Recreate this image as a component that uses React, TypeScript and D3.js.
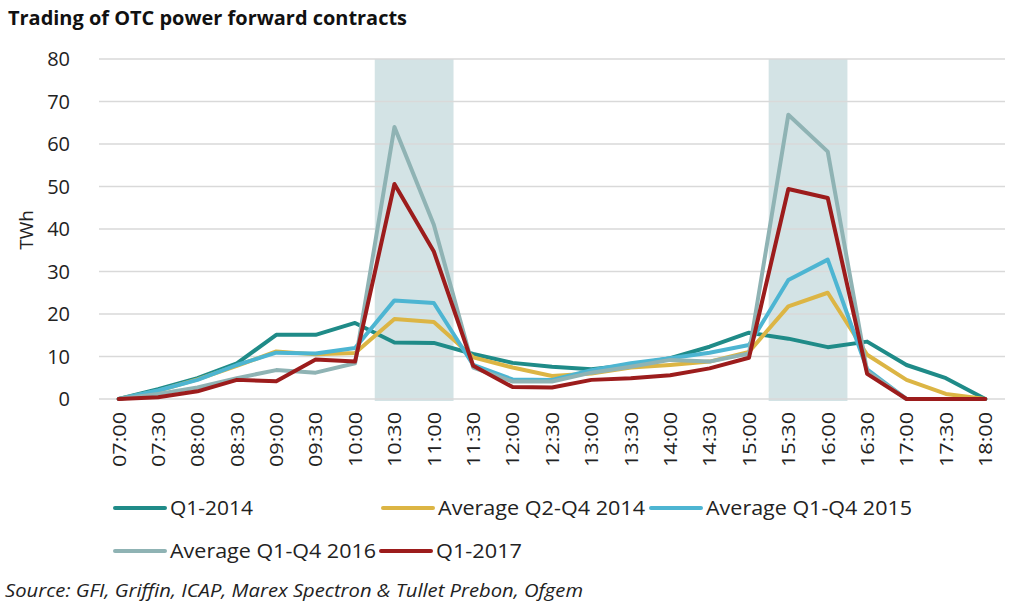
import * as d3 from "d3";

const times = [
  "07:00", "07:30", "08:00", "08:30", "09:00", "09:30", "10:00", "10:30",
  "11:00", "11:30", "12:00", "12:30", "13:00", "13:30", "14:00", "14:30",
  "15:00", "15:30", "16:00", "16:30", "17:00", "17:30", "18:00",
];

const q1_2014 = [0, 2.3, 4.9, 8.4, 15.1, 15.1, 17.9, 13.3, 13.2, 10.6, 8.5, 7.6, 7.0, 8.0, 9.6, 12.3, 15.6, 14.2, 12.2, 13.5, 8.0, 4.9, 0];
const avg_q2q4_2014 = [0, 1.9, 4.6, 7.8, 11.2, 10.5, 10.8, 18.8, 18.1, 9.8, 7.4, 5.4, 6.0, 7.4, 8.0, 8.8, 11.1, 21.8, 25.0, 10.4, 4.5, 1.2, 0];
const avg_q1q4_2015 = [0, 2.0, 4.5, 8.0, 10.9, 10.7, 12.0, 23.2, 22.6, 8.0, 4.6, 4.5, 6.8, 8.4, 9.6, 10.9, 12.7, 28.0, 32.8, 7.0, 0, 0, 0];
const avg_q1q4_2016 = [0, 1.2, 2.7, 4.9, 6.8, 6.2, 8.4, 64.0, 41.0, 7.4, 4.1, 4.1, 6.2, 7.6, 9.2, 8.8, 10.7, 66.9, 58.2, 6.5, 0, 0, 0];
const q1_2017 = [0, 0.4, 1.8, 4.5, 4.2, 9.3, 8.8, 50.6, 34.7, 7.8, 2.8, 2.7, 4.5, 4.9, 5.6, 7.2, 9.7, 49.4, 47.3, 5.9, 0, 0, 0];

const seriesNames = ["Q1-2014", "Average Q2-Q4 2014", "Average Q1-Q4 2015", "Average Q1-Q4 2016", "Q1-2017"];
const seriesColors = ["#1f8b88", "#dcb544", "#4db5d2", "#8fb3b4", "#9c1c1c"];
const seriesValues = [q1_2014, avg_q2q4_2014, avg_q1q4_2015, avg_q1q4_2016, q1_2017];

const shadedPeriods = [["10:30", "11:00"], ["15:30", "16:00"]];
const yTicks = [0, 10, 20, 30, 40, 50, 60, 70, 80];

const W = 1024;
const H = 607;
const font = "'Open Sans', 'DejaVu Sans', sans-serif";

export default function App() {
  const x = d3.scaleBand<string>().domain(times).range([99, 1005]).padding(0);
  const y = d3.scaleLinear().domain([0, 80]).range([399, 59]);
  const cx = (t: string) => (x(t) ?? 0) + x.bandwidth() / 2;

  const line = d3
    .line<number>()
    .x((_, i) => cx(times[i]))
    .y((d) => y(d));

  // legend slots: sample line start, row baseline, label width
  const legendPos = [
    { lx: 115, ly: 508, tw: 83 },
    { lx: 383, ly: 508, tw: 207 },
    { lx: 651, ly: 508, tw: 206 },
    { lx: 115, ly: 551, tw: 206 },
    { lx: 381, ly: 551, tw: 86 },
  ];

  return (
    <svg
      width={W}
      height={H}
      style={{ position: "absolute", top: 0, left: 0, background: "#fff" }}
      fontFamily={font}
    >
      <text
        x={8}
        y={25}
        fontSize={19}
        fontWeight="bold"
        fill="#111"
        textLength={399}
        lengthAdjust="spacingAndGlyphs"
      >
        Trading of OTC power forward contracts
      </text>

      {/* shaded peak windows */}
      {shadedPeriods.map(([a, b]) => (
        <rect
          key={a}
          x={x(a)}
          width={(x(b) ?? 0) + x.bandwidth() - (x(a) ?? 0)}
          y={y(80)}
          height={y(0) - y(80) + 2}
          fill="#d3e3e5"
        />
      ))}

      {/* gridlines + y labels */}
      {yTicks.map((t) => (
        <g key={t}>
          <line x1={99} x2={1005} y1={y(t)} y2={y(t)} stroke="#d9d9d9" strokeWidth={1.5} />
          <text x={70} y={y(t)} dy="0.36em" textAnchor="end" fontSize={20} fill="#222">
            {t}
          </text>
        </g>
      ))}

      <text
        transform={`translate(33,230) rotate(-90)`}
        textAnchor="middle"
        fontSize={19}
        fill="#222"
      >
        TWh
      </text>

      {/* x labels */}
      {times.map((t) => (
        <text
          key={t}
          transform={`translate(${cx(t)},467) rotate(-90)`}
          dy="0.36em"
          fontSize={19}
          fill="#222"
          textLength={55}
          lengthAdjust="spacingAndGlyphs"
        >
          {t}
        </text>
      ))}

      {/* series */}
      {seriesValues.map((vals, i) => (
        <path
          key={seriesNames[i]}
          d={line(vals) ?? ""}
          fill="none"
          stroke={seriesColors[i]}
          strokeWidth={4}
          strokeLinejoin="round"
          strokeLinecap="round"
        />
      ))}

      {/* legend */}
      {seriesNames.map((name, i) => {
        const { lx, ly, tw } = legendPos[i];
        return (
          <g key={name}>
            <line x1={lx} x2={lx + 50} y1={ly} y2={ly} stroke={seriesColors[i]} strokeWidth={4} strokeLinecap="round" />
            <text
              x={lx + 55}
              y={ly}
              dy="0.36em"
              fontSize={20}
              fill="#222"
              textLength={tw}
              lengthAdjust="spacingAndGlyphs"
            >
              {name}
            </text>
          </g>
        );
      })}

      <text
        x={5}
        y={597}
        fontSize={18}
        fontStyle="italic"
        fill="#222"
        textLength={578}
        lengthAdjust="spacingAndGlyphs"
      >
        Source: GFI, Griffin, ICAP, Marex Spectron &amp; Tullet Prebon, Ofgem
      </text>
    </svg>
  );
}
